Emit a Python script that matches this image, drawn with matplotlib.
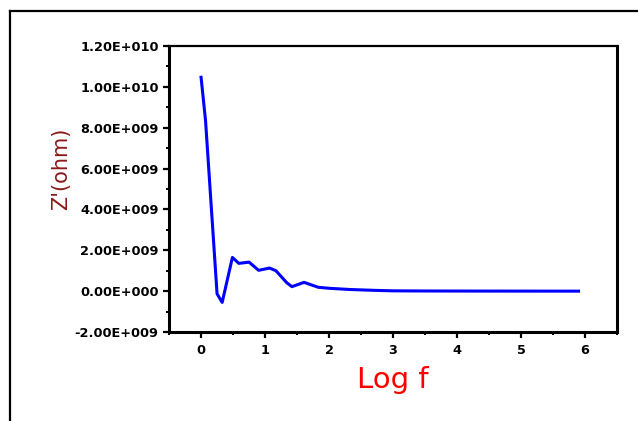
import matplotlib
matplotlib.use('Agg')
import matplotlib.pyplot as plt
from matplotlib.ticker import MultipleLocator, FuncFormatter
from matplotlib.lines import Line2D

# data (Z' in units of 1e9 ohm)
log_f = [0.0, 0.07, 0.25, 0.33, 0.49, 0.59, 0.75, 0.90, 1.07, 1.17, 1.34, 1.42,
         1.61, 1.83, 2.0, 2.33, 2.7, 3.0, 3.5, 4.0, 4.5, 5.0, 5.5, 5.9]
z_real = [10.47, 8.35, -0.13, -0.55, 1.65, 1.36, 1.42, 1.02, 1.13, 1.0, 0.41, 0.22,
          0.43, 0.19, 0.14, 0.08, 0.04, 0.015, 0.008, 0.005, 0.003, 0.002, 0.001, 0.0]
z_real = [v * 1e9 for v in z_real]


def sci_fmt(v, pos):
    s = '%.2E' % v
    mant, exp = s.split('E')
    sign = exp[0]
    return '%sE%s%03d' % (mant, sign, abs(int(exp)))


fig = plt.figure(figsize=(6.38, 4.21), dpi=100)
ax = fig.add_axes([0.265, 0.2114, 0.702, 0.6793])

ax.plot(log_f, z_real, color='#0000FF', lw=2.2)

ax.set_xlim(-0.5, 6.5)
ax.set_ylim(-2e9, 1.2e10)
ax.xaxis.set_major_locator(MultipleLocator(1))
ax.xaxis.set_minor_locator(MultipleLocator(0.5))
ax.yaxis.set_major_locator(MultipleLocator(2e9))
ax.yaxis.set_minor_locator(MultipleLocator(1e9))
ax.yaxis.set_major_formatter(FuncFormatter(sci_fmt))

ax.tick_params(which='major', direction='out', length=4.3, width=1.6,
               labelsize=9.3)
ax.tick_params(axis='y', which='major', pad=3.2)
ax.tick_params(axis='x', which='major', pad=4)
ax.tick_params(which='minor', direction='out', length=2.2, width=1.4)
for lab in ax.get_xticklabels() + ax.get_yticklabels():
    lab.set_fontweight('bold')

for s in ['left', 'bottom', 'right']:
    ax.spines[s].set_linewidth(2.2)
ax.spines['top'].set_linewidth(1.6)

ax.set_xlabel('Log f', fontsize=21, color='#FF0000')
ax.xaxis.set_label_coords(0.5, -0.12)
ax.set_ylabel("Z'(ohm)", fontsize=15, color='#8B1A1A', va='center')
ax.yaxis.set_label_coords(-0.241, 0.57)

# outer frame (top and left only are visible)
fig.add_artist(Line2D([0.0157, 1.0], [0.974, 0.974], color='black', lw=1.6,
                      transform=fig.transFigure))
fig.add_artist(Line2D([0.0157, 0.0157], [0.0, 0.974], color='black', lw=1.6,
                      transform=fig.transFigure))

fig.savefig('out.png', dpi=100)
